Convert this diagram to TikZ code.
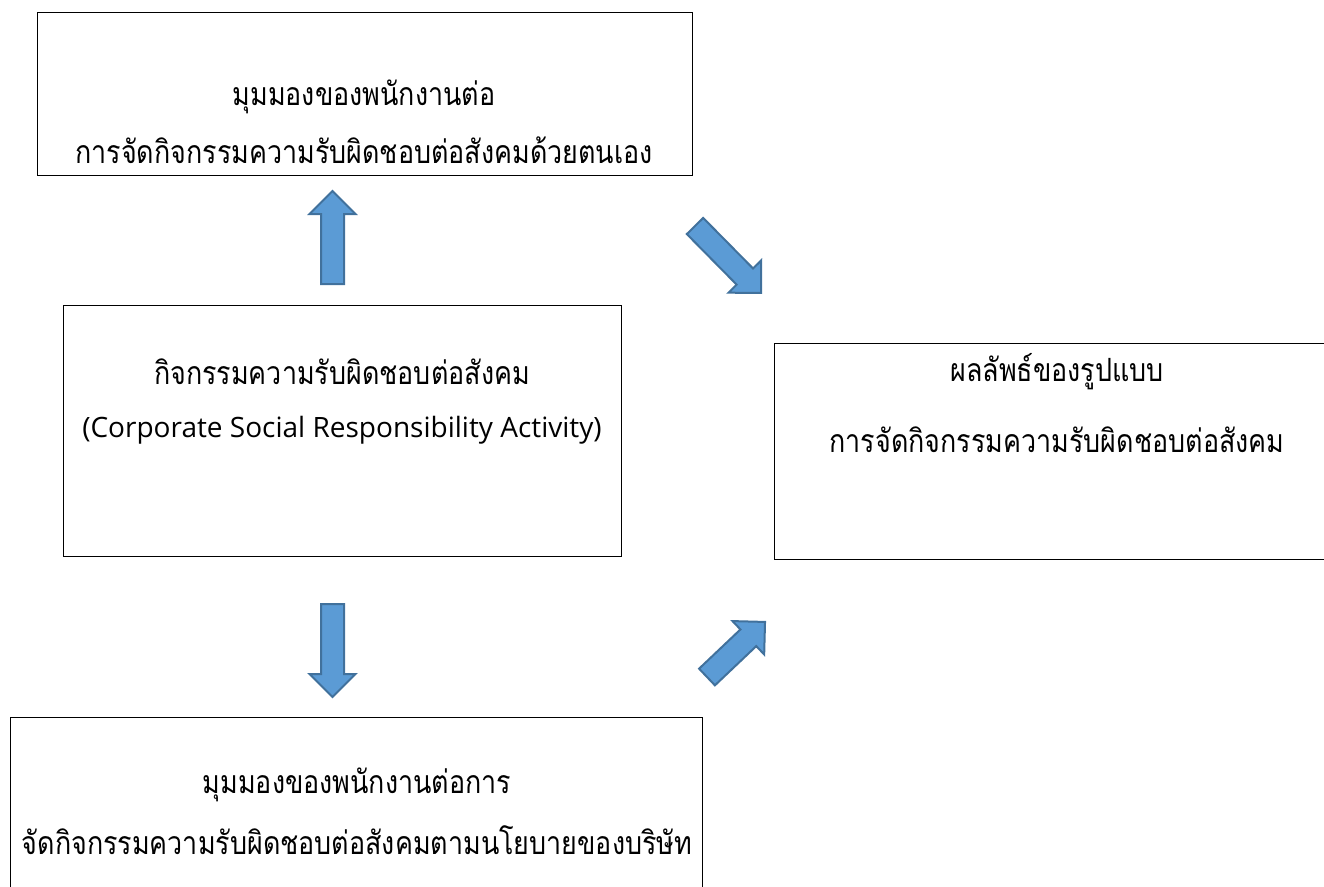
\documentclass[tikz,border=0pt]{standalone}
\usepackage{fontspec}
\newfontfamily\thaifont[Script=Thai,FakeStretch=0.84]{Loma}
\newfontfamily\latinfont{Open Sans}
\definecolor{arrowfill}{HTML}{5B9BD5}
\definecolor{arrowline}{HTML}{41719C}
\tikzset{
  box/.style={draw=black, line width=1.1pt, anchor=north west, inner sep=0pt},
  thtext/.style={font=\thaifont\fontsize{32}{36}\selectfont, inner sep=0pt},
  entext/.style={font=\latinfont\fontsize{28}{32}\selectfont, inner sep=0pt},
  fatarrow/.style={fill=arrowfill, draw=arrowline, line width=2pt, line join=miter}
}
\newcommand{\fatarrowshape}[3]{%
  \draw[fatarrow, shift={(#1)}, rotate=#2]
    (0,-11.5) -- (#3-23,-11.5) -- (#3-23,-23) -- (#3,0) -- (#3-23,23) -- (#3-23,11.5) -- (0,11.5) -- cycle;}
\begin{document}
\begin{tikzpicture}[x=1pt,y=-1pt]
\useasboundingbox (0,0) rectangle (1324,886);
\clip (0,0) rectangle (1324,886);
% boxes
\node[box, minimum width=655pt, minimum height=163pt] (top) at (37,12) {};
\node[box, minimum width=558pt, minimum height=251pt] (mid) at (63,305) {};
\node[box, minimum width=566pt, minimum height=216pt] (res) at (774,343) {};
\node[box, minimum width=692pt, minimum height=200pt] (bot) at (10,717) {};
% texts
\node[thtext] (t1) at (364,97) {มุมมองของพนักงานต่อ};
\node[thtext] (t2) at (364,150) {การจัดกิจกรรมความรับผิดชอบต่อสังคมด้วยตนเอง};
\node[thtext] (m1) at (342,372) {กิจกรรมความรับผิดชอบต่อสังคม};
\node[entext] (m2) at (342,430) {(Corporate Social Responsibility Activity)};
\node[thtext] (r1) at (1057,372) {ผลลัพธ์ของรูปแบบ};
\node[thtext] (r2) at (1057,440) {การจัดกิจกรรมความรับผิดชอบต่อสังคม};
\node[thtext] (b1) at (357,785) {มุมมองของพนักงานต่อการ};
\node[thtext] (b2) at (357,840) {จัดกิจกรรมความรับผิดชอบต่อสังคมตามนโยบายของบริษัท};
% arrows
\coordinate (a1) at (332.5,284);
\coordinate (a2) at (332.5,604);
\coordinate (a3) at (695,226);
\coordinate (a4) at (707,677);
\fatarrowshape{a1}{90}{93}
\fatarrowshape{a2}{-90}{93}
\fatarrowshape{a3}{-45.4}{94}
\fatarrowshape{a4}{43.5}{80}
\end{tikzpicture}
\end{document}
